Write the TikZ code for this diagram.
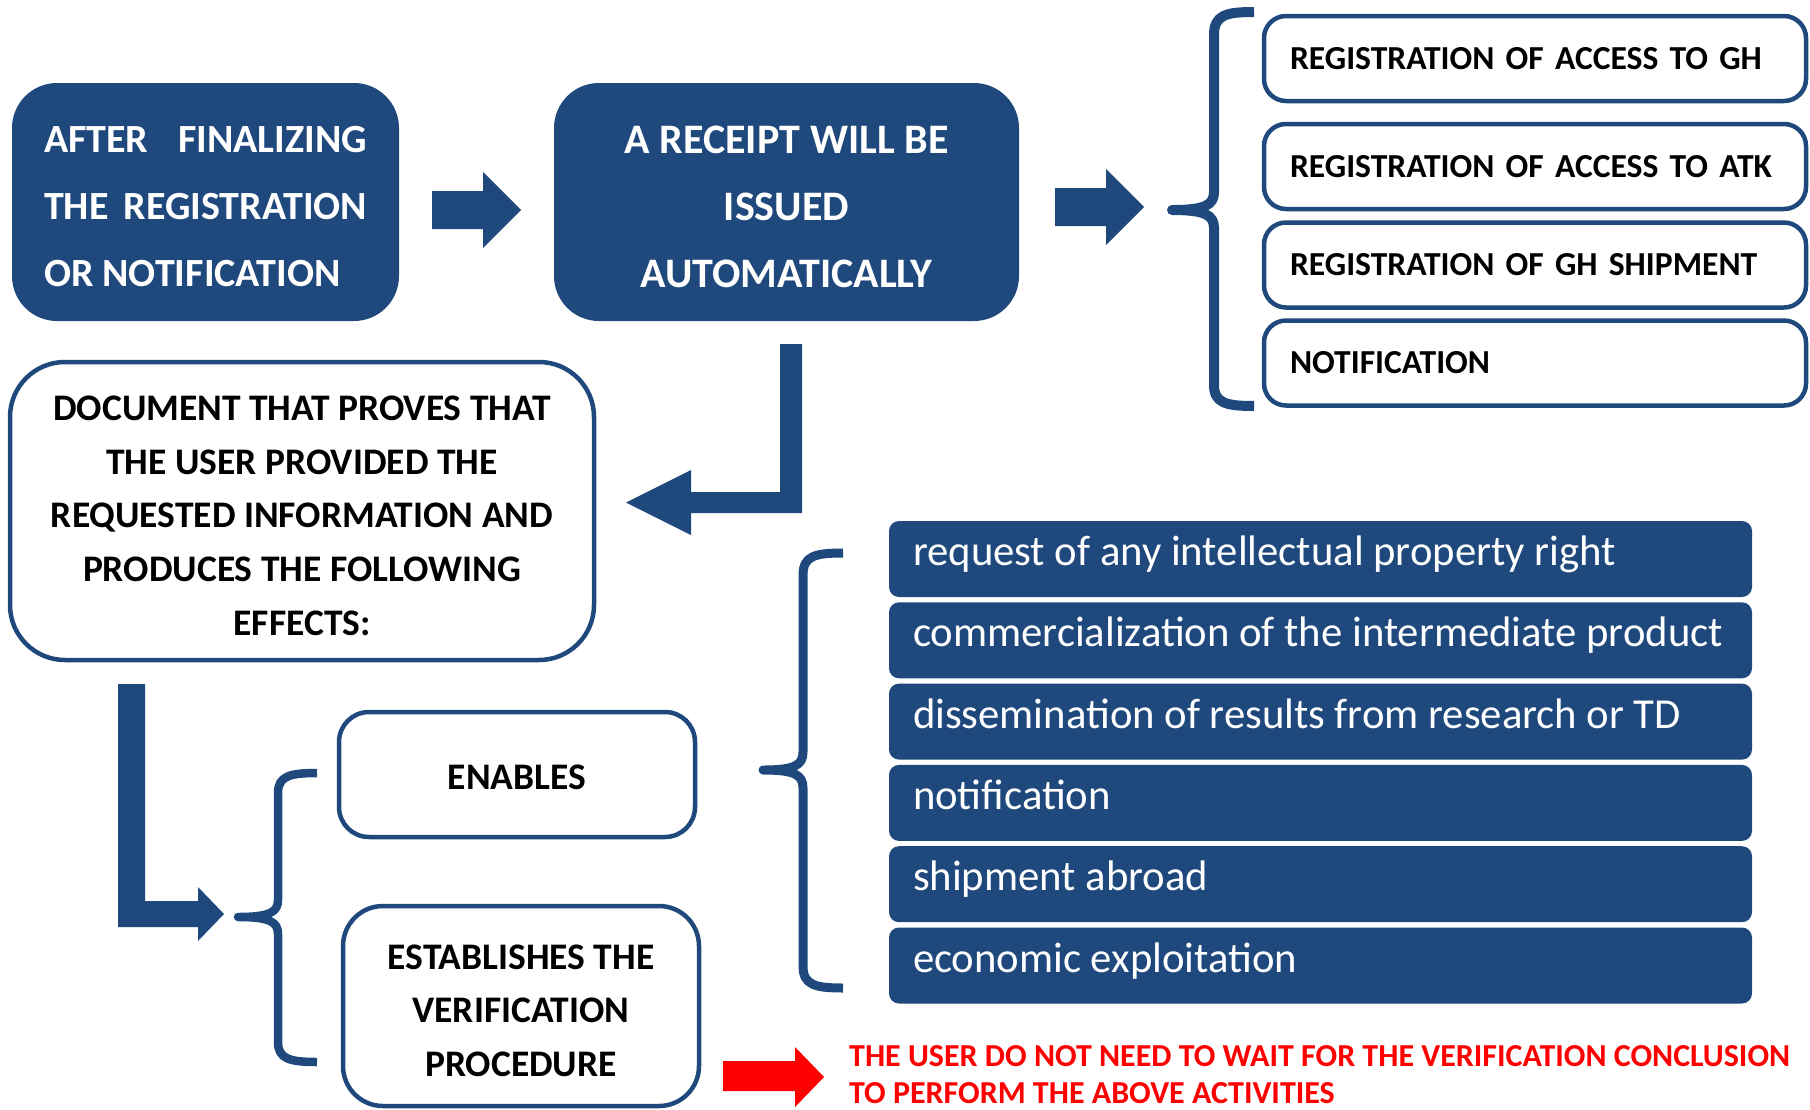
\documentclass[tikz,border=0pt]{standalone}
\usepackage{fontspec}
\setmainfont{Carlito}
\usepackage{tikz}
\usetikzlibrary{calc,positioning}

\definecolor{regblue}{RGB}{31,73,125}
\definecolor{notered}{RGB}{255,0,0}

\tikzset{
  darkbox/.style={fill=regblue,text=white,rounded corners=45pt,inner sep=0pt,
                  font=\bfseries\fontsize{40}{67}\selectfont},
  linebox/.style={draw=regblue,line width=4.5pt,fill=white,inner sep=0pt,
                  font=\bfseries\fontsize{37.5}{53.75}\selectfont,align=center},
  regbox/.style={linebox,rounded corners=22pt,minimum width=542pt,minimum height=85pt,
                 font=\bfseries\fontsize{33.6}{40}\selectfont,align=left,
                 text width=490pt,inner xsep=26pt},
  effbox/.style={fill=regblue,text=white,rounded corners=10pt,
                 minimum width=863pt,minimum height=76pt,inner xsep=24pt,
                 text height=33pt,text depth=20pt,
                 font=\fontsize{42.7}{50}\selectfont,
                 execute at begin node={\hbox to 815pt\bgroup},
                 execute at end node={\hfil\egroup}},
  fatarrow/.style={fill=regblue},
  bracestroke/.style={draw=regblue,line width=10pt,line join=round},
}

\begin{document}
\begin{tikzpicture}[x=1pt,y=-1pt]
  \useasboundingbox (0,0) rectangle (1810,1109) ;
%
  \node (after) [darkbox,minimum width=387pt,minimum height=238pt,align=left]
    at (205.5,202) {\rule{0pt}{36pt}\makebox[323pt]{AFTER\hfill FINALIZING}\\
                    \makebox[323pt]{THE\hfill REGISTRATION}\\
                    OR NOTIFICATION} ;
  \node (receipt) [darkbox,minimum width=465pt,minimum height=238pt,align=center,
                   font=\bfseries\fontsize{42}{67}\selectfont]
    at (786.5,202) {\rule{0pt}{37pt}\makebox[325pt][s]{A RECEIPT WILL BE}\\ ISSUED\\ AUTOMATICALLY} ;
%
  \node (regGH)  [regbox] at (1535,58.5) {\mbox{REGISTRATION OF ACCESS TO GH}} ;
  \node (regATK) [regbox] at (1535,166.5) {\mbox{REGISTRATION OF ACCESS TO ATK}} ;
  \node (regShp) [regbox] at (1535,265) {\mbox{REGISTRATION OF GH SHIPMENT}} ;
  \node (regNot) [regbox] at (1535,363) {\mbox{NOTIFICATION}} ;
%
  \node (proof) [linebox,rounded corners=55pt,minimum width=584pt,minimum height=298pt]
    at (302,511) {\rule{0pt}{34pt}DOCUMENT THAT PROVES THAT\\ THE USER PROVIDED THE\\
                  REQUESTED INFORMATION AND\\ PRODUCES THE FOLLOWING\\ EFFECTS:} ;
%
  \node (enables) [linebox,rounded corners=30pt,minimum width=356pt,minimum height=125pt]
    at (517,774.5) {\rule{0pt}{30pt}ENABLES} ;
  \node (verif) [linebox,rounded corners=40pt,minimum width=356pt,minimum height=200pt]
    at (521,1006) {\rule{0pt}{34pt}ESTABLISHES THE\\ VERIFICATION\\ PROCEDURE} ;
%
  \node (eff1) [effbox] at (1320.5,559) {request of any intellectual property right} ;
  \node (eff2) [effbox] at (1320.5,640.3) {commercialization of the intermediate product} ;
  \node (eff3) [effbox] at (1320.5,721.6) {dissemination of results from research or TD} ;
  \node (eff4) [effbox] at (1320.5,802.9) {notification} ;
  \node (eff5) [effbox] at (1320.5,884.2) {shipment abroad} ;
  \node (eff6) [effbox] at (1320.5,965.5) {economic exploitation} ;
%
  \node (note) [anchor=west,inner sep=0pt,text=notered,align=left,
                font=\bfseries\fontsize{32}{37}\selectfont]
    at (849,1075) {THE USER DO NOT NEED TO WAIT FOR THE VERIFICATION CONCLUSION\\
                   TO PERFORM THE ABOVE ACTIVITIES} ;
%
  % block arrows
  \fill [fatarrow] (432,191) -- (483,191) -- (483,172) -- (521,210)
                   -- (483,248) -- (483,229) -- (432,229) -- cycle ;
  \fill [fatarrow] (1055,188) -- (1106,188) -- (1106,169) -- (1144,207)
                   -- (1106,245) -- (1106,226) -- (1055,226) -- cycle ;
  \fill [fatarrow] (780,344) -- (802,344) -- (802,513) -- (691,513) -- (691,535)
                   -- (626,502.5) -- (691,470) -- (691,492) -- (780,492) -- cycle ;
  \fill [fatarrow] (118,684) -- (145,684) -- (145,901) -- (198,901) -- (198,887)
                   -- (224,914) -- (198,941) -- (198,927) -- (118,927) -- cycle ;
  \fill [notered]  (723,1061) -- (795,1061) -- (795,1047) -- (824,1077)
                   -- (795,1107) -- (795,1091) -- (723,1091) -- cycle ;
%
  % braces
  \draw [bracestroke] (1254,12) .. controls (1226,12) and (1214,15) .. (1214,35)
        -- (1214,192) .. controls (1214,205) and (1205,210) .. (1172,210)
        .. controls (1205,210) and (1214,215) .. (1214,228)
        -- (1214,385) .. controls (1214,403) and (1226,406) .. (1254,406) ;
  \draw [bracestroke,line width=9pt] (843,553) .. controls (815,553) and (803,556) .. (803,575)
        -- (803,752) .. controls (803,765) and (795,770) .. (763,770)
        .. controls (795,770) and (803,775) .. (803,788)
        -- (803,966) .. controls (803,985) and (815,988) .. (843,988) ;
  \draw [bracestroke,line width=8.5pt] (317,773) .. controls (290,773) and (278,776) .. (278,793)
        -- (278,900) .. controls (278,912) and (270,917) .. (238,917)
        .. controls (270,917) and (278,922) .. (278,934)
        -- (278,1042) .. controls (278,1059) and (290,1062) .. (317,1062) ;
%
\end{tikzpicture}
\end{document}
